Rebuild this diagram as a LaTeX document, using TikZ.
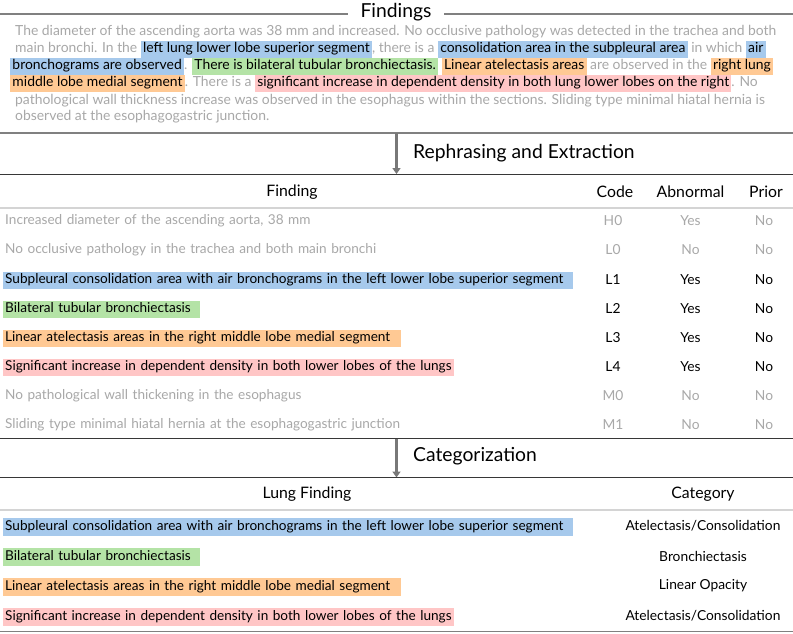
\documentclass[tikz,border=0pt]{standalone}
\usepackage{fontspec}
\setmainfont{Lato}
\usetikzlibrary{arrows.meta}
\definecolor{hlblue}{RGB}{166,201,236}
\definecolor{hlgreen}{RGB}{180,227,166}
\definecolor{hlorange}{RGB}{255,201,148}
\definecolor{hlpink}{RGB}{255,198,198}
\definecolor{txtgray}{RGB}{168,168,168}
\definecolor{linegray}{RGB}{128,128,128}
\definecolor{linedark}{RGB}{55,55,55}
\definecolor{linelight}{RGB}{212,212,212}
\definecolor{arrowgray}{RGB}{120,120,120}
\newcommand{\hlx}[2]{{\setlength{\fboxsep}{0pt}\colorbox{#1}{\rule[-4.6pt]{0pt}{17pt}\hspace{2.3pt}\color{black}#2\hspace{2.3pt}}}}
\begin{document}
\begin{tikzpicture}[x=1pt,y=-1pt,
  title/.style={inner sep=0pt, font=\fontsize{19.3}{21}\selectfont, text=black},
  para/.style={anchor=base west, inner sep=0pt, font=\fontsize{13.9}{17}\selectfont, text=txtgray},
  head/.style={inner sep=0pt, font=\fontsize{15.8}{17}\selectfont, text=black},
  rowtxt/.style={anchor=west, inner xsep=2pt, inner ysep=2.5pt, text height=9.8pt, text depth=3pt, align=left, font=\fontsize{13.6}{15}\selectfont},
  cell/.style={inner sep=0pt, font=\fontsize{13.8}{15}\selectfont},
  gr/.style={text=txtgray},
  bk/.style={text=black},
  flowarrow/.style={draw=arrowgray, line width=3pt, -{Triangle[length=6pt,width=8pt]}, shorten >=0pt},
  ruleg/.style={draw=linegray, line width=1.3pt},
  ruled/.style={draw=linedark, line width=1.3pt},
  rulel/.style={draw=linelight, line width=2pt}
]
\useasboundingbox (0,0) rectangle (793,634);
\fill[white] (0,0) rectangle (793,634);

% ---------- Findings ----------
\node[title] (tfind) at (396,12) {Findings};
\coordinate (fl0) at (0,14);
\coordinate (fl1) at (348,14);
\coordinate (fr0) at (444,14);
\coordinate (fr1) at (793,14);
\draw[ruleg] (fl0) -- (fl1);
\draw[ruleg] (fr0) -- (fr1);

\node[para] (p1) at (15,36) {The diameter of the ascending aorta was 38 mm and increased. No occlusive pathology was detected in the trachea and both};
\node[para] (p2) at (15,53) {main bronchi. In the \hlx{hlblue}{left lung lower lobe superior segment}, there is a \hlx{hlblue}{consolidation area in the subpleural area} in which \hlx{hlblue}{air}};
\node[para] (p3) at (10,70) {\hlx{hlblue}{bronchograms are observed}. \hlx{hlgreen}{There is bilateral tubular bronchiectasis.} \hlx{hlorange}{Linear atelectasis areas} are observed in the \hlx{hlorange}{right lung}};
\node[para] (p4) at (10,87) {\hlx{hlorange}{middle lobe medial segment}. There is a \hlx{hlpink}{significant increase in dependent density in both lung lower lobes on the right}. No};
\node[para] (p5) at (15,104) {pathological wall thickness increase was observed in the esophagus within the sections. Sliding type minimal hiatal hernia is};
\node[para] (p6) at (15,121) {observed at the esophagogastric junction.};

% ---------- Rephrasing and Extraction ----------
\coordinate (s1l) at (0,133);
\coordinate (s1r) at (793,133);
\draw[ruleg] (s1l) -- (s1r);
\coordinate (a1s) at (396.5,133);
\coordinate (a1e) at (396.5,174);
\draw[flowarrow] (a1s) -- (a1e);
\node[title, anchor=west] (treph) at (413,153) {Rephrasing and Extraction};
\coordinate (s2l) at (0,174.5);
\coordinate (s2r) at (793,174.5);
\draw[ruled] (s2l) -- (s2r);

\node[head] (hf) at (292,192) {Finding};
\node[head] (hc) at (615,192) {Code};
\node[head] (ha) at (690.5,192) {Abnormal};
\node[head] (hp) at (766,192) {Prior};
\coordinate (s3l) at (0,207.5);
\coordinate (s3r) at (793,207.5);
\draw[rulel] (s3l) -- (s3r);

\node[rowtxt, gr, text width=566pt] (r0) at (3,221.5) {Increased diameter of the ascending aorta, 38 mm};
\node[rowtxt, gr, text width=566pt] (r1) at (3,250.5) {No occlusive pathology in the trachea and both main bronchi};
\node[rowtxt, bk, fill=hlblue, text width=566pt] (r2) at (3,280.5) {Subpleural consolidation area with air bronchograms in the left lower lobe superior segment};
\node[rowtxt, bk, fill=hlgreen, text width=193pt] (r3) at (3,309.5) {Bilateral tubular bronchiectasis};
\node[rowtxt, bk, fill=hlorange, text width=394pt] (r4) at (3,338.5) {Linear atelectasis areas in the right middle lobe medial segment};
\node[rowtxt, bk, fill=hlpink, text width=447pt] (r5) at (3,367.5) {Significant increase in dependent density in both lower lobes of the lungs};
\node[rowtxt, gr, text width=566pt] (r6) at (3,396.5) {No pathological wall thickening in the esophagus};
\node[rowtxt, gr, text width=566pt] (r7) at (3,425.5) {Sliding type minimal hiatal hernia at the esophagogastric junction};

\node[cell, gr] (c0) at (613,221) {H0};
\node[cell, gr] (c1) at (613,250) {L0};
\node[cell, bk] (c2) at (613,279.5) {L1};
\node[cell, bk] (c3) at (613,308.5) {L2};
\node[cell, bk] (c4) at (613,337.5) {L3};
\node[cell, bk] (c5) at (613,366.5) {L4};
\node[cell, gr] (c6) at (613,395.5) {M0};
\node[cell, gr] (c7) at (613,424.5) {M1};

\node[cell, gr] (b0) at (690.5,221) {Yes};
\node[cell, gr] (b1) at (690.5,250) {No};
\node[cell, bk] (b2) at (690.5,279.5) {Yes};
\node[cell, bk] (b3) at (690.5,308.5) {Yes};
\node[cell, bk] (b4) at (690.5,337.5) {Yes};
\node[cell, bk] (b5) at (690.5,366.5) {Yes};
\node[cell, gr] (b6) at (690.5,395.5) {No};
\node[cell, gr] (b7) at (690.5,424.5) {No};

\node[cell, gr] (q0) at (764,221) {No};
\node[cell, gr] (q1) at (764,250) {No};
\node[cell, bk] (q2) at (764,279.5) {No};
\node[cell, bk] (q3) at (764,308.5) {No};
\node[cell, bk] (q4) at (764,337.5) {No};
\node[cell, bk] (q5) at (764,366.5) {No};
\node[cell, gr] (q6) at (764,395.5) {No};
\node[cell, gr] (q7) at (764,424.5) {No};

% ---------- Categorization ----------
\coordinate (s4l) at (0,438.5);
\coordinate (s4r) at (793,438.5);
\draw[ruled] (s4l) -- (s4r);
\coordinate (a2s) at (396.5,438.5);
\coordinate (a2e) at (396.5,477.5);
\draw[flowarrow] (a2s) -- (a2e);
\node[title, anchor=west] (tcat) at (413,456) {Categorization};
\coordinate (s5l) at (0,477.5);
\coordinate (s5r) at (793,477.5);
\draw[ruled] (s5l) -- (s5r);

\node[head] (hl) at (307,494.5) {Lung Finding};
\node[head] (hg) at (703,494.5) {Category};
\coordinate (s6l) at (0,510);
\coordinate (s6r) at (793,510);
\draw[rulel] (s6l) -- (s6r);

\node[rowtxt, bk, fill=hlblue, text width=566pt] (g1) at (3,527) {Subpleural consolidation area with air bronchograms in the left lower lobe superior segment};
\node[rowtxt, bk, fill=hlgreen, text width=193pt] (g2) at (3,557) {Bilateral tubular bronchiectasis};
\node[rowtxt, bk, fill=hlorange, text width=394pt] (g3) at (3,587) {Linear atelectasis areas in the right middle lobe medial segment};
\node[rowtxt, bk, fill=hlpink, text width=447pt] (g4) at (3,617) {Significant increase in dependent density in both lower lobes of the lungs};

\node[cell, bk] (k1) at (703,526) {Atelectasis/Consolidation};
\node[cell, bk] (k2) at (703,556) {Bronchiectasis};
\node[cell, bk] (k3) at (703,586) {Linear Opacity};
\node[cell, bk] (k4) at (703,616) {Atelectasis/Consolidation};

\coordinate (s7l) at (0,631.5);
\coordinate (s7r) at (793,631.5);
\draw[ruleg] (s7l) -- (s7r);
\end{tikzpicture}
\end{document}
